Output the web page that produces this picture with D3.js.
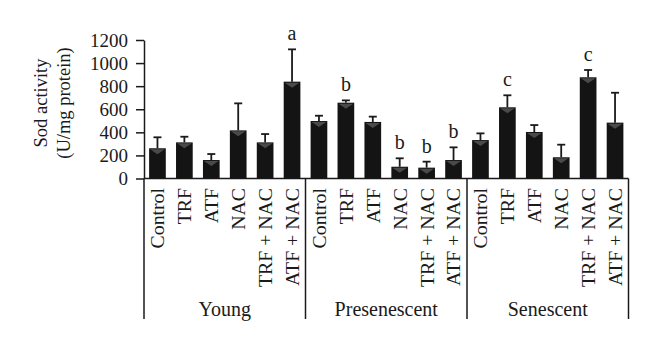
<!DOCTYPE html>
<html>
<head>
<meta charset="utf-8">
<script src="https://cdn.jsdelivr.net/npm/d3@7"></script>
<style>
  body { margin: 0; background: #fff; }
  text { font-family: "Liberation Serif", "DejaVu Serif", serif; fill: #1a1a1a; }
</style>
</head>
<body>
<div id="chart"></div>
<script>
const groups = ['Young', 'Presenescent', 'Senescent'];
const treatments = ['Control', 'TRF', 'ATF', 'NAC', 'TRF + NAC', 'ATF + NAC'];

// mean and upper error (mean + SD) for each group, in treatment order
const youngMean = [262, 313, 160, 417, 313, 839];
const youngErr = [357, 362, 212, 651, 385, 1119];
const presMean = [498, 657, 490, 102, 94, 160];
const presErr = [544, 677, 536, 175, 146, 270];
const senMean = [333, 617, 403, 184, 877, 484];
const senErr = [391, 721, 463, 293, 940, 743];

const youngSig = ['', '', '', '', '', 'a'];
const presSig = ['', 'b', '', 'b', 'b', 'b'];
const senSig = ['', 'c', '', '', 'c', ''];

const yTicks = [0, 200, 400, 600, 800, 1000, 1200];

const means = [youngMean, presMean, senMean];
const errs = [youngErr, presErr, senErr];
const sigs = [youngSig, presSig, senSig];

const data = [];
groups.forEach((g, gi) => {
  treatments.forEach((t, ti) => {
    data.push({
      key: g + '|' + t, group: g, label: t,
      value: means[gi][ti], err: errs[gi][ti], sig: sigs[gi][ti]
    });
  });
});

const width = 660, height = 351;
const svg = d3.select('#chart').append('svg')
  .attr('width', width)
  .attr('height', height);

const x0 = 144, x1 = 628.5;
const x = d3.scaleBand()
  .domain(data.map(d => d.key))
  .range([x0, x1])
  .paddingInner(0.38)
  .paddingOuter(0.19);

const y = d3.scaleLinear()
  .domain([0, 1200])
  .range([178.5, 40]);

// y axis
const yAxis = d3.axisLeft(y).tickValues(yTicks).tickSize(8).tickSizeOuter(0)
  .tickFormat(d3.format('d'));
const ya = svg.append('g')
  .attr('transform', `translate(${x0},0)`)
  .call(yAxis);
ya.select('.domain').attr('stroke', '#1a1a1a').attr('stroke-width', 1.5);
ya.selectAll('.tick line').attr('stroke', '#1a1a1a').attr('stroke-width', 1.5);
ya.selectAll('.tick text')
  .attr('x', -16)
  .style('font-family', '"Liberation Serif", serif')
  .style('font-size', '19px')
  .attr('fill', '#1a1a1a');

// y axis title
const yt = svg.append('text')
  .attr('transform', 'translate(47,103) rotate(-90)')
  .attr('text-anchor', 'middle')
  .style('font-size', '18.5px');
yt.append('tspan').attr('x', 0).attr('dy', 0).text('Sod activity');
yt.append('tspan').attr('x', 0).attr('dy', 23).text('(U/mg protein)');

// x axis line
svg.append('line')
  .attr('x1', x0).attr('x2', x1)
  .attr('y1', y(0)).attr('y2', y(0))
  .attr('stroke', '#1a1a1a').attr('stroke-width', 1.5);

// group dividers
const groupStep = (x1 - x0) / groups.length;
d3.range(groups.length + 1).forEach(i => {
  svg.append('line')
    .attr('x1', x0 + i * groupStep).attr('x2', x0 + i * groupStep)
    .attr('y1', y(0)).attr('y2', 319)
    .attr('stroke', '#1a1a1a').attr('stroke-width', 1.5);
});

// bars
const bw = x.bandwidth();
svg.selectAll('rect.bar')
  .data(data)
  .join('rect')
  .attr('class', 'bar')
  .attr('x', d => x(d.key))
  .attr('y', d => y(d.value))
  .attr('width', bw)
  .attr('height', d => y(0) - y(d.value))
  .attr('fill', '#141414');

// little shaded triangle at the top of each bar
svg.selectAll('path.tri')
  .data(data)
  .join('path')
  .attr('class', 'tri')
  .attr('d', d => {
    const l = x(d.key), t = y(d.value);
    return `M${l + 1},${t + 1}L${l + bw - 1},${t + 1}L${l + bw / 2},${t + 6}Z`;
  })
  .attr('fill', '#4a4a4a');

// error bars
const eb = svg.selectAll('g.err')
  .data(data)
  .join('g')
  .attr('class', 'err');
eb.append('line')
  .attr('x1', d => x(d.key) + bw / 2).attr('x2', d => x(d.key) + bw / 2)
  .attr('y1', d => y(d.value)).attr('y2', d => y(d.err))
  .attr('stroke', '#1a1a1a').attr('stroke-width', 1.8);
eb.append('line')
  .attr('x1', d => x(d.key) + bw / 2 - 4).attr('x2', d => x(d.key) + bw / 2 + 4)
  .attr('y1', d => y(d.err)).attr('y2', d => y(d.err))
  .attr('stroke', '#1a1a1a').attr('stroke-width', 1.8);

// significance letters
svg.selectAll('text.sig')
  .data(data.filter(d => d.sig))
  .join('text')
  .attr('class', 'sig')
  .attr('x', d => x(d.key) + bw / 2)
  .attr('y', d => y(d.err) - 9)
  .attr('text-anchor', 'middle')
  .style('font-size', '20px')
  .text(d => d.sig);

// category labels
svg.selectAll('text.cat')
  .data(data)
  .join('text')
  .attr('class', 'cat')
  .attr('transform', d => `translate(${x(d.key) + bw / 2},188) rotate(-90)`)
  .attr('text-anchor', 'end')
  .attr('dy', '0.35em')
  .style('font-size', '19.8px')
  .text(d => d.label);

// group labels
svg.selectAll('text.grp')
  .data(groups)
  .join('text')
  .attr('class', 'grp')
  .attr('x', (d, i) => x0 + (i + 0.5) * groupStep)
  .attr('y', 316)
  .attr('text-anchor', 'middle')
  .style('font-size', '20px')
  .text(d => d);
</script>
</body>
</html>
